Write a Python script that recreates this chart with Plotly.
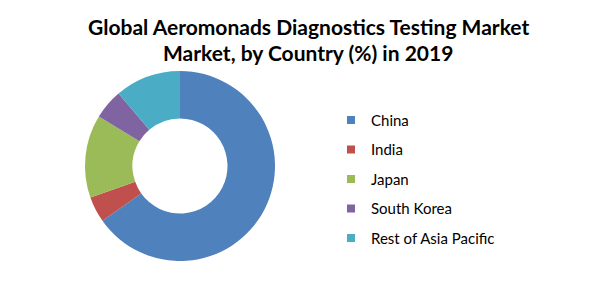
import plotly.graph_objects as go

countries = ["China", "India", "Japan", "South Korea", "Rest of Asia Pacific"]
shares = [65.2, 4.4, 14.1, 5.1, 11.2]
colors = ["#4F81BD", "#C0504D", "#9BBB59", "#8064A2", "#4BACC6"]
title_lines = ["Global Aeromonads Diagnostics Testing Market", "Market, by Country (%) in 2019"]

W, H = 591, 282
fig = go.Figure()
fig.add_trace(go.Pie(
    labels=countries, values=shares, hole=0.5, sort=False, direction="clockwise",
    rotation=0, marker=dict(colors=colors, line=dict(width=0)),
    textinfo="none", hoverinfo="label+percent", showlegend=False,
    domain=dict(x=[85 / W, 275 / W], y=[21 / H, 211 / H]),
))
for i, (c, col) in enumerate(zip(countries, colors)):
    fig.add_trace(go.Scatter(
        x=[None], y=[None], mode="markers", name=c, legendgroup=f"g{i}",
        marker=dict(symbol="square", size=8, color=col),
    ))

for j, line in enumerate(title_lines):
    fig.add_annotation(
        text=line, xref="paper", yref="paper", x=308 / W, y=1 - (27 + 25 * j) / H,
        xanchor="center", yanchor="middle", showarrow=False,
        font=dict(family="Lato", size=21, color="black", weight="bold"),
    )

fig.update_layout(
    width=W, height=H, margin=dict(l=0, r=0, t=0, b=0),
    paper_bgcolor="white", plot_bgcolor="white",
    xaxis=dict(visible=False), yaxis=dict(visible=False),
    legend=dict(x=331 / W, xanchor="left", y=0.632, yanchor="top", tracegroupgap=7,
                font=dict(family="Lato", size=15, color="black"), itemwidth=30),
)
fig.write_html("out.html")
